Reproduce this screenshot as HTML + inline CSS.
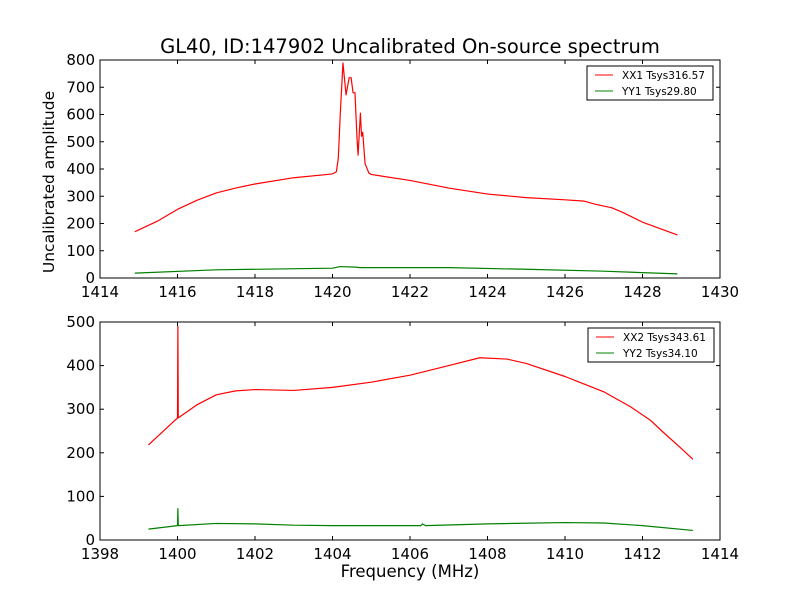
<!DOCTYPE html>
<html><head><meta charset="utf-8"><style>
body{margin:0;background:#fff;}
svg{font-family:"DejaVu Sans","Liberation Sans",sans-serif;}
</style></head><body>
<svg id="chart" width="800" height="600" xmlns="http://www.w3.org/2000/svg">
<rect width="800" height="600" fill="#fff"/>
<text x="410" y="53" font-size="19.5" text-anchor="middle">GL40, ID:147902 Uncalibrated On-source spectrum</text>
<text x="0" y="0" font-size="15.5" text-anchor="middle" transform="translate(54,182) rotate(-90)">Uncalibrated amplitude</text>
<text x="410" y="577" font-size="16.5" text-anchor="middle">Frequency (MHz)</text>
<g id="g1"></g>
<g id="g2"></g>
</svg>
<script>
const xx1F=[1414.9,1415.5,1416,1416.5,1417,1417.5,1418,1419,1420,1420.1,1420.15,1420.2,1420.27,1420.35,1420.43,1420.48,1420.53,1420.58,1420.63,1420.66,1420.72,1420.75,1420.78,1420.84,1420.94,1421,1422,1423,1424,1425,1426,1426.5,1426.8,1427.2,1427.5,1428,1428.9];
const xx1V=[170,210,252,285,312,330,345,368,382,390,440,600,789,672,735,735,680,680,520,451,605,520,535,420,385,380,358,330,308,295,287,282,270,258,240,205,158];
const yy1F=[1414.9,1417,1420,1420.2,1420.6,1420.7,1421,1423,1425,1427,1428.9];
const yy1V=[18,30,36,42,40,38,38,38,32,25,15];
const xx2F=[1399.25,1400,1400.01,1400.02,1400.5,1401,1401.5,1402,1403,1404,1405,1406,1407,1407.8,1408.5,1409,1410,1411,1411.7,1412.2,1412.5,1413,1413.3];
const xx2V=[218,280,490,280,310,333,342,345,343,350,362,378,400,418,415,405,375,340,305,275,250,210,185];
const yy2F=[1399.25,1400,1400.01,1400.02,1401,1402,1403,1404,1406,1406.28,1406.32,1406.4,1408,1410,1411,1412,1413.3];
const yy2V=[25,33,72,33,38,37,34,33,33,33,37,33,37,40,39,33,22];
const ticks1X=[1414,1416,1418,1420,1422,1424,1426,1428,1430];
const ticks1Y=[0,100,200,300,400,500,600,700,800];
const ticks2X=[1398,1400,1402,1404,1406,1408,1410,1412,1414];
const ticks2Y=[0,100,200,300,400,500];
const NS="http://www.w3.org/2000/svg";
function mk(p,t,a){const e=document.createElementNS(NS,t);for(const k in a)e.setAttribute(k,a[k]);p.appendChild(e);return e;}
function panel(g,top,xmin,xmax,ymax,tx,ty,series,leg){
 const L=100,R=720,B=top+218;
 const sx=v=>L+(v-xmin)/(xmax-xmin)*(R-L), sy=v=>B-v/ymax*218;
 series.forEach(s=>{
  const pts=s.f.map((f,i)=>sx(f).toFixed(2)+","+sy(s.v[i]).toFixed(2)).join(" ");
  const pl=mk(g,"polyline",{points:pts,fill:"none",stroke:s.c,"stroke-width":1.2,"stroke-linejoin":"round"});
  
  
 });
 const fr=mk(g,"rect",{x:L,y:top,width:R-L,height:218,fill:"none",stroke:"#000","stroke-width":1});
 
 
 tx.forEach(t=>{const x=sx(t);
  mk(g,"line",{x1:x,x2:x,y1:B,y2:B-4,stroke:"#000"});mk(g,"line",{x1:x,x2:x,y1:top,y2:top+4,stroke:"#000"});
  const tl=mk(g,"text",{x:x,y:B+19,"font-size":15,"text-anchor":"middle"});tl.textContent=t;
  
  });
 ty.forEach(t=>{const y=sy(t);
  mk(g,"line",{x1:L,x2:L+4,y1:y,y2:y,stroke:"#000"});mk(g,"line",{x1:R,x2:R-4,y1:y,y2:y,stroke:"#000"});
  const tl=mk(g,"text",{x:L-5,y:y+5,"font-size":15,"text-anchor":"end"});tl.textContent=t;
  
  });
 const lg=mk(g,"g",{});
 
 
 mk(lg,"rect",{x:leg[0],y:top+6,width:126,height:34,fill:"#fff",stroke:"#000"});
 series.forEach((s,i)=>{const y=top+15+i*16;
  mk(lg,"line",{x1:leg[0]+8,x2:leg[0]+26,y1:y,y2:y,stroke:s.c});
  const t=mk(lg,"text",{x:leg[0]+35,y:y+4,"font-size":10.5});t.textContent=s.l;
  
  });
}
panel(document.getElementById("g1"),60,1414,1430,800,ticks1X,ticks1Y,
 [{f:xx1F,v:xx1V,c:"#ff0000",n:"xx1-line",l:"XX1 Tsys316.57"},{f:yy1F,v:yy1V,c:"#008000",n:"yy1-line",l:"YY1 Tsys29.80"}],[587]);
panel(document.getElementById("g2"),322,1398,1414,500,ticks2X,ticks2Y,
 [{f:xx2F,v:xx2V,c:"#ff0000",n:"xx2-line",l:"XX2 Tsys343.61"},{f:yy2F,v:yy2V,c:"#008000",n:"yy2-line",l:"YY2 Tsys34.10"}],[588]);
</script>
</body></html>
